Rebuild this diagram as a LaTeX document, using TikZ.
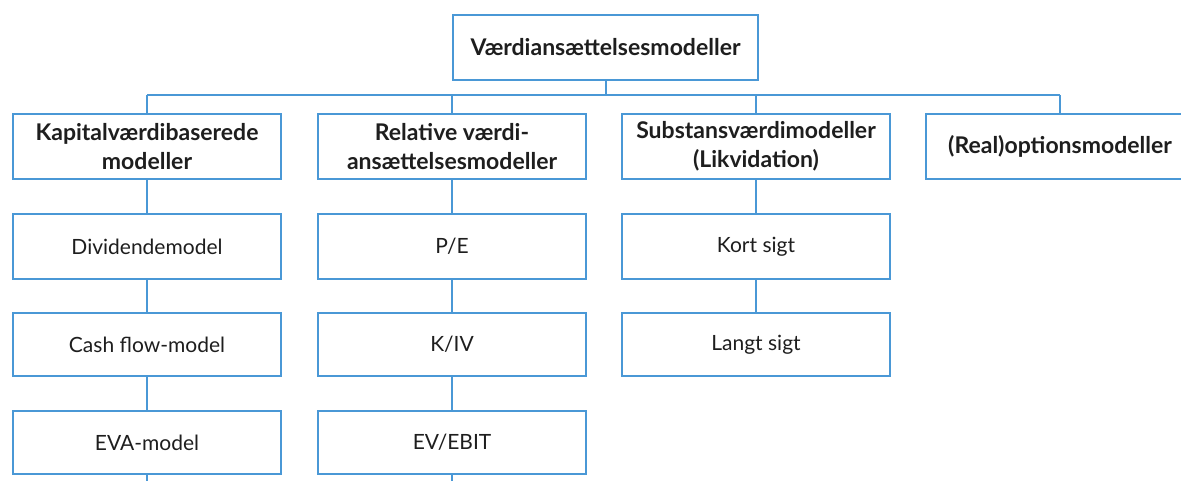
\documentclass[tikz,border=0pt]{standalone}
\usepackage{fontspec}
\setmainfont{Lato}
\definecolor{lineblue}{RGB}{74,152,214}
\definecolor{txt}{RGB}{30,30,30}
\begin{document}
\begin{tikzpicture}[x=1pt,y=-1pt,
  box/.style={draw=lineblue,line width=2.4pt,fill=white,rectangle,inner sep=0pt,
    minimum width=268pt,minimum height=65pt,align=center,text=txt,
    font=\fontsize{21}{29}\selectfont},
  headbox/.style={box,font=\fontsize{23}{29}\selectfont\bfseries},
  conn/.style={draw=lineblue,line width=2pt}]
\useasboundingbox (0,0) rectangle (1181,481);
% nodes
\node[headbox,minimum width=305pt] (top) at (605.5,47.5) {Værdiansættelsesmodeller};
\node[headbox] (kap) at (147,146.5) {Kapitalværdibaserede\\modeller};
\node[headbox] (rel) at (452,146.5) {Relative værdi-\\ansættelsesmodeller};
\node[headbox] (sub) at (756,146.5) {Substansværdimodeller\\(Likvidation)};
\node[headbox] (real) at (1060,146.5) {(Real)optionsmodeller};
\node[box] (div) at (147,246.5) {Dividendemodel};
\node[box] (pe) at (452,246.5) {P/E};
\node[box] (kort) at (756,246.5) {Kort sigt};
\node[box,minimum height=63pt] (cash) at (147,344.5) {Cash flow-model};
\node[box,minimum height=63pt] (kiv) at (452,344.5) {K/IV};
\node[box,minimum height=63pt] (langt) at (756,344.5) {Langt sigt};
\node[box,minimum height=63pt] (eva) at (147,442.5) {EVA-model};
\node[box,minimum height=63pt] (ev) at (452,442.5) {EV/EBIT};
% bus and free ends
\coordinate (busL) at (147,95);
\coordinate (busR) at (1060,95);
\coordinate (endK) at (147,485);
\coordinate (endR) at (452,485);
\draw[conn] (busL) -- (busR);
\draw[conn] (top.south) -- (top.south |- busL);
\draw[conn] (kap.north |- busL) -- (kap.north);
\draw[conn] (rel.north |- busL) -- (rel.north);
\draw[conn] (sub.north |- busL) -- (sub.north);
\draw[conn] (real.north |- busL) -- (real.north);
\draw[conn] (kap) -- (div);
\draw[conn] (div) -- (cash);
\draw[conn] (cash) -- (eva);
\draw[conn] (eva.south) -- (endK);
\draw[conn] (rel) -- (pe);
\draw[conn] (pe) -- (kiv);
\draw[conn] (kiv) -- (ev);
\draw[conn] (ev.south) -- (endR);
\draw[conn] (sub) -- (kort);
\draw[conn] (kort) -- (langt);
\end{tikzpicture}
\end{document}
